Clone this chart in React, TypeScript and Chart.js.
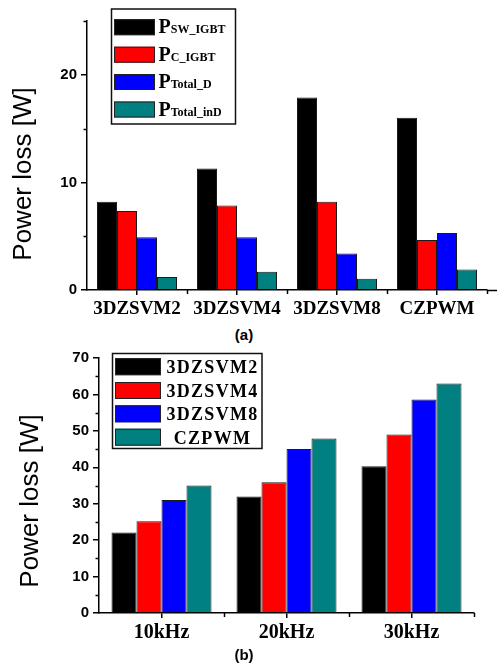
import React, { useEffect, useRef } from 'react';
import { Chart, registerables } from 'chart.js';

Chart.register(...registerables);

// ---- data: chart (a) ----
const categoriesA = ['3DZSVM2', '3DZSVM4', '3DZSVM8', 'CZPWM'];
const pSwIgbt = [8.2, 11.3, 17.9, 16.0];
const pCIgbt = [7.35, 7.85, 8.2, 4.65];
const pTotalD = [4.9, 4.9, 3.4, 5.3];
const pTotalInD = [1.2, 1.7, 1.05, 1.9];
const legendSubsA = ['SW_IGBT', 'C_IGBT', 'Total_D', 'Total_inD'];
const yTicksA = [0, 10, 20];

// ---- data: chart (b) ----
const categoriesB = ['10kHz', '20kHz', '30kHz'];
const svm2 = [22.1, 32.0, 40.3];
const svm4 = [25.2, 35.9, 49.0];
const svm8 = [31.0, 45.0, 58.6];
const czpwm = [35.0, 47.9, 63.0];
const legendNamesB = ['3DZSVM2', '3DZSVM4', '3DZSVM8', 'CZPWM'];
const yTicksB = [0, 10, 20, 30, 40, 50, 60, 70];

const yTitle = 'Power loss [W]';

const SERIF = '"Liberation Serif", "Times New Roman", serif';
const SANS = '"Liberation Sans", Arial, sans-serif';
const COLORS = ['#000000', '#ff0000', '#0000ff', '#008080'];

type ExtraCfg = {
  yMinor: number[];
  nCat: number;
  extendX: boolean;
  titleX: number;
  titleY: number;
  legend: {
    x: number; y: number; w: number; h: number;
    swX: number; swW: number; swH: number;
    rows: number[];
  };
  drawLegendText: (ctx: CanvasRenderingContext2D, i: number, cy: number) => void;
};

function makeExtras(cfg: ExtraCfg) {
  return {
    id: 'extras',
    afterDraw(chart: any) {
      const { ctx, chartArea, scales } = chart;
      const xs = scales.x;
      const ys = scales.y;
      ctx.save();
      ctx.strokeStyle = '#000';
      ctx.lineWidth = 1.5;
      // minor y ticks
      for (const v of cfg.yMinor) {
        const py = Math.round(ys.getPixelForValue(v)) + 0.5;
        ctx.beginPath();
        ctx.moveTo(chartArea.left - 3.5, py);
        ctx.lineTo(chartArea.left, py);
        ctx.stroke();
      }
      // minor x ticks between categories
      for (let i = 1; i <= cfg.nCat; i++) {
        const px = Math.round(xs.getPixelForValue(i - 0.5)) + 0.5;
        ctx.beginPath();
        ctx.moveTo(px, chartArea.bottom);
        ctx.lineTo(px, chartArea.bottom + 4);
        ctx.stroke();
      }
      if (cfg.extendX) {
        ctx.beginPath();
        ctx.moveTo(chartArea.right, chartArea.bottom + 0.5);
        ctx.lineTo(chart.width, chartArea.bottom + 0.5);
        ctx.stroke();
      }
      // y title
      ctx.save();
      ctx.translate(cfg.titleX, cfg.titleY);
      ctx.rotate(-Math.PI / 2);
      ctx.font = `26px ${SANS}`;
      ctx.fillStyle = '#000';
      ctx.textAlign = 'center';
      ctx.textBaseline = 'middle';
      ctx.fillText(yTitle, 0, 0);
      ctx.restore();
      // legend
      const L = cfg.legend;
      ctx.fillStyle = '#fff';
      ctx.fillRect(L.x, L.y, L.w, L.h);
      ctx.strokeStyle = '#111';
      ctx.lineWidth = 1.5;
      ctx.strokeRect(L.x, L.y, L.w, L.h);
      L.rows.forEach((cy, i) => {
        const ds = chart.data.datasets[i];
        ctx.fillStyle = ds.backgroundColor;
        ctx.fillRect(L.swX, cy - L.swH / 2, L.swW, L.swH);
        ctx.strokeStyle = '#222';
        ctx.lineWidth = 1;
        ctx.strokeRect(L.swX + 0.5, cy - L.swH / 2 + 0.5, L.swW - 1, L.swH - 1);
        ctx.fillStyle = '#000';
        cfg.drawLegendText(ctx, i, cy);
      });
      ctx.restore();
    },
  };
}

function makeDatasets(series: number[][], labels: string[]) {
  return series.map((d, i) => ({
    label: labels[i],
    data: d,
    backgroundColor: COLORS[i],
    borderColor: '#1a1a1a',
    borderWidth: 1,
    categoryPercentage: 0.8,
    barPercentage: 1.0,
  }));
}

function baseOptions(o: {
  yMax: number; yWidth: number; xHeight: number; padding: any; xFontSize: number; yTicks: number[];
}) {
  return {
    responsive: false,
    animation: false as const,
    devicePixelRatio: 1,
    layout: { padding: o.padding },
    plugins: { legend: { display: false }, tooltip: { enabled: false } },
    scales: {
      x: {
        type: 'category' as const,
        offset: true,
        afterFit: (s: any) => { s.height = o.xHeight; },
        border: { display: true, color: '#000', width: 1.5 },
        grid: {
          offset: false,
          drawOnChartArea: false,
          drawTicks: true,
          tickLength: 5,
          color: '#000',
          lineWidth: 1.5,
        },
        ticks: {
          color: '#000',
          padding: 3,
          maxRotation: 0,
          autoSkip: false,
          font: { family: SERIF, size: o.xFontSize, weight: 'bold' as const },
        },
      },
      y: {
        min: 0,
        max: o.yMax,
        afterFit: (s: any) => { s.width = o.yWidth; },
        afterBuildTicks: (s: any) => { s.ticks = o.yTicks.map((v) => ({ value: v })); },
        border: { display: true, color: '#000', width: 1.5 },
        grid: {
          drawOnChartArea: false,
          drawTicks: true,
          tickLength: 6,
          color: '#000',
          lineWidth: 1.5,
        },
        ticks: {
          color: '#000',
          padding: 4,
          font: { family: SANS, size: 15, weight: 'bold' as const },
        },
      },
    },
  };
}

function ChartA() {
  const ref = useRef<HTMLCanvasElement | null>(null);
  useEffect(() => {
    if (!ref.current) return;
    const chart = new Chart(ref.current, {
      type: 'bar',
      data: {
        labels: categoriesA,
        datasets: makeDatasets([pSwIgbt, pCIgbt, pTotalD, pTotalInD], legendSubsA.map((s) => 'P' + s)),
      },
      options: baseOptions({
        yMax: 25, yWidth: 87, xHeight: 30,
        padding: { left: 0, top: 21, right: 10, bottom: 0 },
        xFontSize: 19, yTicks: yTicksA,
      }) as any,
      plugins: [
        makeExtras({
          yMinor: [5, 15, 25],
          nCat: categoriesA.length,
          extendX: true,
          titleX: 24,
          titleY: 174,
          legend: { x: 111.5, y: 9, w: 124, h: 115, swX: 114, swW: 41, swH: 16, rows: [27.2, 54.7, 82, 109.5] },
          drawLegendText: (ctx, i, cy) => {
            ctx.textAlign = 'left';
            ctx.textBaseline = 'alphabetic';
            ctx.font = `bold 20px ${SERIF}`;
            ctx.fillText('P', 158.5, cy + 6);
            const w = ctx.measureText('P').width;
            ctx.font = `bold 12px ${SERIF}`;
            ctx.fillText(legendSubsA[i], 158.5 + w, cy + 6);
          },
        }),
      ],
    });
    return () => chart.destroy();
  }, []);
  return <canvas ref={ref} width={497} height={320} style={{ position: 'absolute', left: 0, top: 0 }} />;
}

function ChartB() {
  const ref = useRef<HTMLCanvasElement | null>(null);
  useEffect(() => {
    if (!ref.current) return;
    const chart = new Chart(ref.current, {
      type: 'bar',
      data: {
        labels: categoriesB,
        datasets: makeDatasets([svm2, svm4, svm8, czpwm], legendNamesB),
      },
      options: baseOptions({
        yMax: 70, yWidth: 99, xHeight: 56,
        padding: { left: 0, top: 18, right: 23, bottom: 0 },
        xFontSize: 20, yTicks: yTicksB,
      }) as any,
      plugins: [
        makeExtras({
          yMinor: [5, 15, 25, 35, 45, 55, 65],
          nCat: categoriesB.length,
          extendX: false,
          titleX: 31,
          titleY: 161,
          legend: { x: 112.5, y: 13.5, w: 149.5, h: 95, swX: 115, swW: 46, swH: 17, rows: [26.7, 50.5, 73.8, 97.2] },
          drawLegendText: (ctx, i, cy) => {
            ctx.textAlign = 'center';
            ctx.textBaseline = 'alphabetic';
            ctx.font = `bold 18px ${SERIF}`;
            (ctx as any).letterSpacing = '1.3px';
            ctx.fillText(legendNamesB[i], 212.5, cy + 6.5);
            (ctx as any).letterSpacing = '0px';
          },
        }),
      ],
    });
    return () => chart.destroy();
  }, []);
  return <canvas ref={ref} width={497} height={329} style={{ position: 'absolute', left: 0, top: 340 }} />;
}

const captionStyle: React.CSSProperties = {
  position: 'absolute',
  left: 224,
  width: 40,
  textAlign: 'center',
  font: `bold 15px ${SANS}`,
  lineHeight: '16px',
  color: '#000',
};

export default function App() {
  return (
    <div style={{ position: 'absolute', left: 0, top: 0, width: 497, height: 669, background: '#fff', overflow: 'hidden' }}>
      <ChartA />
      <div style={{ ...captionStyle, top: 327 }}>(a)</div>
      <ChartB />
      <div style={{ ...captionStyle, top: 647 }}>(b)</div>
    </div>
  );
}
